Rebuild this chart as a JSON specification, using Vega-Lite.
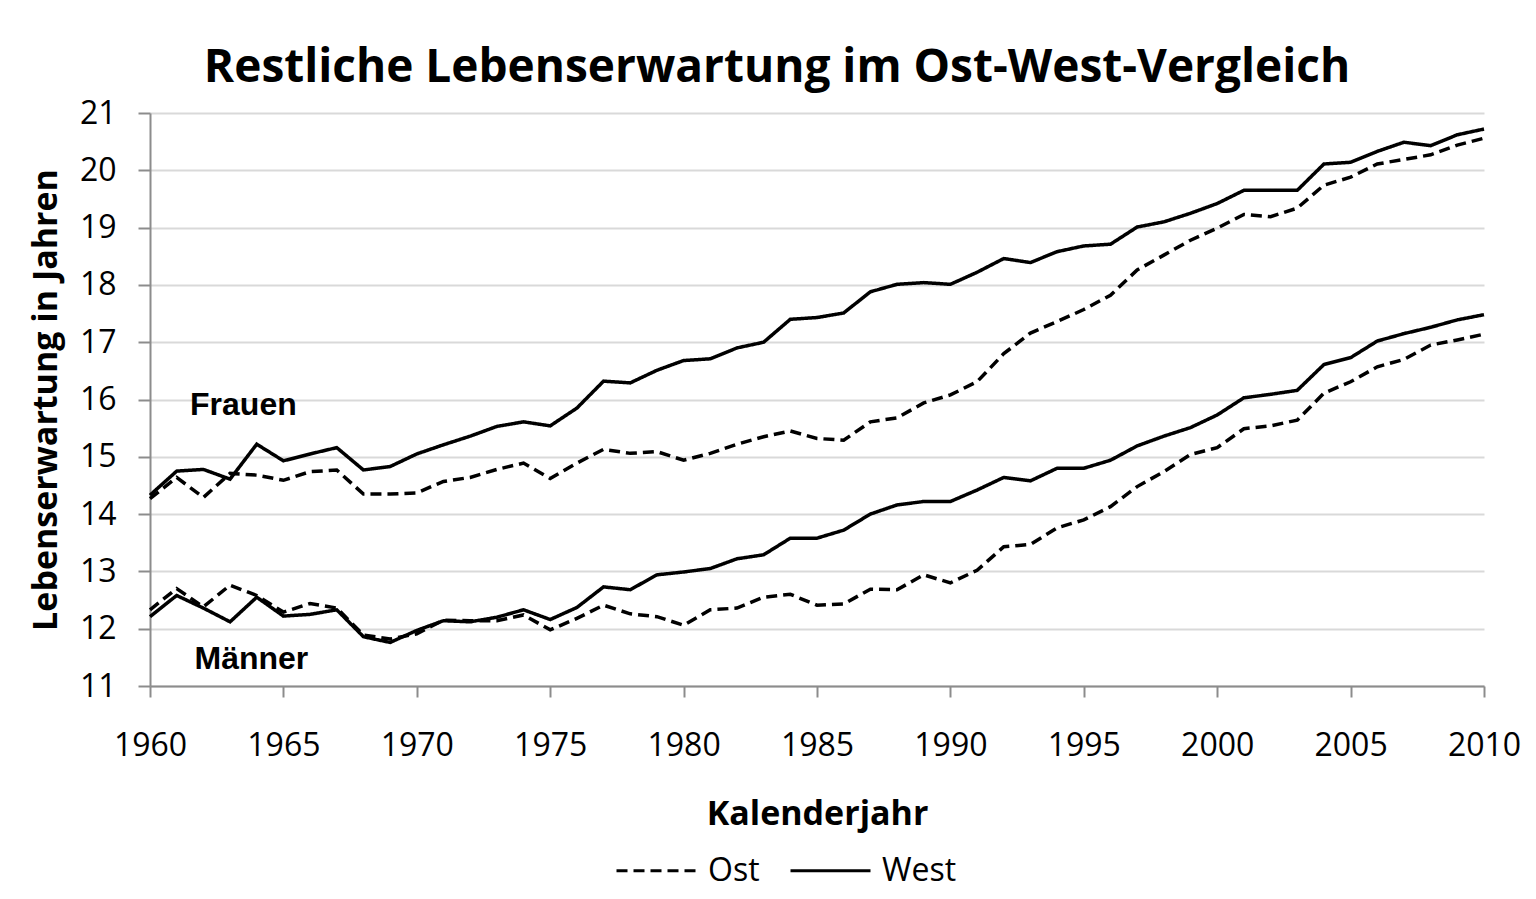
{
  "$schema": "https://vega.github.io/schema/vega-lite/v6.json",
  "width": 1334,
  "height": 573,
  "autosize": {"type": "none"},
  "padding": {"left": 150, "top": 113, "right": 52, "bottom": 213},
  "background": "white",
  "title": {
    "text": "Restliche Lebenserwartung im Ost-West-Vergleich",
    "font": "Open Sans",
    "fontSize": 46,
    "fontWeight": "bold",
    "color": "black",
    "anchor": "middle",
    "dx": -40,
    "offset": 5
  },
  "config": {"view": {"stroke": null}, "font": "Open Sans"},
  "layer": [
    {
      "data": {
        "values": [
          {"Jahr":1960,"Geschlecht":"Frauen","Region":"West","Wert":14.33},{"Jahr":1960,"Geschlecht":"Frauen","Region":"Ost","Wert":14.27},{"Jahr":1960,"Geschlecht":"Männer","Region":"West","Wert":12.21},{"Jahr":1960,"Geschlecht":"Männer","Region":"Ost","Wert":12.33},
          {"Jahr":1961,"Geschlecht":"Frauen","Region":"West","Wert":14.75},{"Jahr":1961,"Geschlecht":"Frauen","Region":"Ost","Wert":14.64},{"Jahr":1961,"Geschlecht":"Männer","Region":"West","Wert":12.58},{"Jahr":1961,"Geschlecht":"Männer","Region":"Ost","Wert":12.70},
          {"Jahr":1962,"Geschlecht":"Frauen","Region":"West","Wert":14.78},{"Jahr":1962,"Geschlecht":"Frauen","Region":"Ost","Wert":14.29},{"Jahr":1962,"Geschlecht":"Männer","Region":"West","Wert":12.36},{"Jahr":1962,"Geschlecht":"Männer","Region":"Ost","Wert":12.38},
          {"Jahr":1963,"Geschlecht":"Frauen","Region":"West","Wert":14.61},{"Jahr":1963,"Geschlecht":"Frauen","Region":"Ost","Wert":14.71},{"Jahr":1963,"Geschlecht":"Männer","Region":"West","Wert":12.12},{"Jahr":1963,"Geschlecht":"Männer","Region":"Ost","Wert":12.76},
          {"Jahr":1964,"Geschlecht":"Frauen","Region":"West","Wert":15.22},{"Jahr":1964,"Geschlecht":"Frauen","Region":"Ost","Wert":14.68},{"Jahr":1964,"Geschlecht":"Männer","Region":"West","Wert":12.55},{"Jahr":1964,"Geschlecht":"Männer","Region":"Ost","Wert":12.58},
          {"Jahr":1965,"Geschlecht":"Frauen","Region":"West","Wert":14.93},{"Jahr":1965,"Geschlecht":"Frauen","Region":"Ost","Wert":14.59},{"Jahr":1965,"Geschlecht":"Männer","Region":"West","Wert":12.22},{"Jahr":1965,"Geschlecht":"Männer","Region":"Ost","Wert":12.29},
          {"Jahr":1966,"Geschlecht":"Frauen","Region":"West","Wert":15.05},{"Jahr":1966,"Geschlecht":"Frauen","Region":"Ost","Wert":14.74},{"Jahr":1966,"Geschlecht":"Männer","Region":"West","Wert":12.25},{"Jahr":1966,"Geschlecht":"Männer","Region":"Ost","Wert":12.44},
          {"Jahr":1967,"Geschlecht":"Frauen","Region":"West","Wert":15.16},{"Jahr":1967,"Geschlecht":"Frauen","Region":"Ost","Wert":14.77},{"Jahr":1967,"Geschlecht":"Männer","Region":"West","Wert":12.33},{"Jahr":1967,"Geschlecht":"Männer","Region":"Ost","Wert":12.36},
          {"Jahr":1968,"Geschlecht":"Frauen","Region":"West","Wert":14.77},{"Jahr":1968,"Geschlecht":"Frauen","Region":"Ost","Wert":14.35},{"Jahr":1968,"Geschlecht":"Männer","Region":"West","Wert":11.86},{"Jahr":1968,"Geschlecht":"Männer","Region":"Ost","Wert":11.89},
          {"Jahr":1969,"Geschlecht":"Frauen","Region":"West","Wert":14.83},{"Jahr":1969,"Geschlecht":"Frauen","Region":"Ost","Wert":14.35},{"Jahr":1969,"Geschlecht":"Männer","Region":"West","Wert":11.76},{"Jahr":1969,"Geschlecht":"Männer","Region":"Ost","Wert":11.82},
          {"Jahr":1970,"Geschlecht":"Frauen","Region":"West","Wert":15.05},{"Jahr":1970,"Geschlecht":"Frauen","Region":"Ost","Wert":14.37},{"Jahr":1970,"Geschlecht":"Männer","Region":"West","Wert":11.97},{"Jahr":1970,"Geschlecht":"Männer","Region":"Ost","Wert":11.91},
          {"Jahr":1971,"Geschlecht":"Frauen","Region":"West","Wert":15.21},{"Jahr":1971,"Geschlecht":"Frauen","Region":"Ost","Wert":14.57},{"Jahr":1971,"Geschlecht":"Männer","Region":"West","Wert":12.14},{"Jahr":1971,"Geschlecht":"Männer","Region":"Ost","Wert":12.15},
          {"Jahr":1972,"Geschlecht":"Frauen","Region":"West","Wert":15.36},{"Jahr":1972,"Geschlecht":"Frauen","Region":"Ost","Wert":14.64},{"Jahr":1972,"Geschlecht":"Männer","Region":"West","Wert":12.12},{"Jahr":1972,"Geschlecht":"Männer","Region":"Ost","Wert":12.14},
          {"Jahr":1973,"Geschlecht":"Frauen","Region":"West","Wert":15.53},{"Jahr":1973,"Geschlecht":"Frauen","Region":"Ost","Wert":14.78},{"Jahr":1973,"Geschlecht":"Männer","Region":"West","Wert":12.20},{"Jahr":1973,"Geschlecht":"Männer","Region":"Ost","Wert":12.14},
          {"Jahr":1974,"Geschlecht":"Frauen","Region":"West","Wert":15.61},{"Jahr":1974,"Geschlecht":"Frauen","Region":"Ost","Wert":14.89},{"Jahr":1974,"Geschlecht":"Männer","Region":"West","Wert":12.33},{"Jahr":1974,"Geschlecht":"Männer","Region":"Ost","Wert":12.24},
          {"Jahr":1975,"Geschlecht":"Frauen","Region":"West","Wert":15.54},{"Jahr":1975,"Geschlecht":"Frauen","Region":"Ost","Wert":14.62},{"Jahr":1975,"Geschlecht":"Männer","Region":"West","Wert":12.16},{"Jahr":1975,"Geschlecht":"Männer","Region":"Ost","Wert":11.98},
          {"Jahr":1976,"Geschlecht":"Frauen","Region":"West","Wert":15.85},{"Jahr":1976,"Geschlecht":"Frauen","Region":"Ost","Wert":14.89},{"Jahr":1976,"Geschlecht":"Männer","Region":"West","Wert":12.37},{"Jahr":1976,"Geschlecht":"Männer","Region":"Ost","Wert":12.18},
          {"Jahr":1977,"Geschlecht":"Frauen","Region":"West","Wert":16.32},{"Jahr":1977,"Geschlecht":"Frauen","Region":"Ost","Wert":15.13},{"Jahr":1977,"Geschlecht":"Männer","Region":"West","Wert":12.73},{"Jahr":1977,"Geschlecht":"Männer","Region":"Ost","Wert":12.41},
          {"Jahr":1978,"Geschlecht":"Frauen","Region":"West","Wert":16.29},{"Jahr":1978,"Geschlecht":"Frauen","Region":"Ost","Wert":15.06},{"Jahr":1978,"Geschlecht":"Männer","Region":"West","Wert":12.68},{"Jahr":1978,"Geschlecht":"Männer","Region":"Ost","Wert":12.26},
          {"Jahr":1979,"Geschlecht":"Frauen","Region":"West","Wert":16.51},{"Jahr":1979,"Geschlecht":"Frauen","Region":"Ost","Wert":15.09},{"Jahr":1979,"Geschlecht":"Männer","Region":"West","Wert":12.94},{"Jahr":1979,"Geschlecht":"Männer","Region":"Ost","Wert":12.21},
          {"Jahr":1980,"Geschlecht":"Frauen","Region":"West","Wert":16.68},{"Jahr":1980,"Geschlecht":"Frauen","Region":"Ost","Wert":14.94},{"Jahr":1980,"Geschlecht":"Männer","Region":"West","Wert":12.99},{"Jahr":1980,"Geschlecht":"Männer","Region":"Ost","Wert":12.06},
          {"Jahr":1981,"Geschlecht":"Frauen","Region":"West","Wert":16.71},{"Jahr":1981,"Geschlecht":"Frauen","Region":"Ost","Wert":15.06},{"Jahr":1981,"Geschlecht":"Männer","Region":"West","Wert":13.05},{"Jahr":1981,"Geschlecht":"Männer","Region":"Ost","Wert":12.33},
          {"Jahr":1982,"Geschlecht":"Frauen","Region":"West","Wert":16.90},{"Jahr":1982,"Geschlecht":"Frauen","Region":"Ost","Wert":15.22},{"Jahr":1982,"Geschlecht":"Männer","Region":"West","Wert":13.22},{"Jahr":1982,"Geschlecht":"Männer","Region":"Ost","Wert":12.36},
          {"Jahr":1983,"Geschlecht":"Frauen","Region":"West","Wert":17.00},{"Jahr":1983,"Geschlecht":"Frauen","Region":"Ost","Wert":15.35},{"Jahr":1983,"Geschlecht":"Männer","Region":"West","Wert":13.29},{"Jahr":1983,"Geschlecht":"Männer","Region":"Ost","Wert":12.55},
          {"Jahr":1984,"Geschlecht":"Frauen","Region":"West","Wert":17.40},{"Jahr":1984,"Geschlecht":"Frauen","Region":"Ost","Wert":15.45},{"Jahr":1984,"Geschlecht":"Männer","Region":"West","Wert":13.58},{"Jahr":1984,"Geschlecht":"Männer","Region":"Ost","Wert":12.60},
          {"Jahr":1985,"Geschlecht":"Frauen","Region":"West","Wert":17.43},{"Jahr":1985,"Geschlecht":"Frauen","Region":"Ost","Wert":15.32},{"Jahr":1985,"Geschlecht":"Männer","Region":"West","Wert":13.58},{"Jahr":1985,"Geschlecht":"Männer","Region":"Ost","Wert":12.41},
          {"Jahr":1986,"Geschlecht":"Frauen","Region":"West","Wert":17.51},{"Jahr":1986,"Geschlecht":"Frauen","Region":"Ost","Wert":15.29},{"Jahr":1986,"Geschlecht":"Männer","Region":"West","Wert":13.72},{"Jahr":1986,"Geschlecht":"Männer","Region":"Ost","Wert":12.43},
          {"Jahr":1987,"Geschlecht":"Frauen","Region":"West","Wert":17.88},{"Jahr":1987,"Geschlecht":"Frauen","Region":"Ost","Wert":15.61},{"Jahr":1987,"Geschlecht":"Männer","Region":"West","Wert":14.00},{"Jahr":1987,"Geschlecht":"Männer","Region":"Ost","Wert":12.69},
          {"Jahr":1988,"Geschlecht":"Frauen","Region":"West","Wert":18.01},{"Jahr":1988,"Geschlecht":"Frauen","Region":"Ost","Wert":15.68},{"Jahr":1988,"Geschlecht":"Männer","Region":"West","Wert":14.16},{"Jahr":1988,"Geschlecht":"Männer","Region":"Ost","Wert":12.68},
          {"Jahr":1989,"Geschlecht":"Frauen","Region":"West","Wert":18.04},{"Jahr":1989,"Geschlecht":"Frauen","Region":"Ost","Wert":15.94},{"Jahr":1989,"Geschlecht":"Männer","Region":"West","Wert":14.22},{"Jahr":1989,"Geschlecht":"Männer","Region":"Ost","Wert":12.94},
          {"Jahr":1990,"Geschlecht":"Frauen","Region":"West","Wert":18.01},{"Jahr":1990,"Geschlecht":"Frauen","Region":"Ost","Wert":16.08},{"Jahr":1990,"Geschlecht":"Männer","Region":"West","Wert":14.22},{"Jahr":1990,"Geschlecht":"Männer","Region":"Ost","Wert":12.80},
          {"Jahr":1991,"Geschlecht":"Frauen","Region":"West","Wert":18.22},{"Jahr":1991,"Geschlecht":"Frauen","Region":"Ost","Wert":16.31},{"Jahr":1991,"Geschlecht":"Männer","Region":"West","Wert":14.42},{"Jahr":1991,"Geschlecht":"Männer","Region":"Ost","Wert":13.02},
          {"Jahr":1992,"Geschlecht":"Frauen","Region":"West","Wert":18.46},{"Jahr":1992,"Geschlecht":"Frauen","Region":"Ost","Wert":16.80},{"Jahr":1992,"Geschlecht":"Männer","Region":"West","Wert":14.64},{"Jahr":1992,"Geschlecht":"Männer","Region":"Ost","Wert":13.43},
          {"Jahr":1993,"Geschlecht":"Frauen","Region":"West","Wert":18.39},{"Jahr":1993,"Geschlecht":"Frauen","Region":"Ost","Wert":17.16},{"Jahr":1993,"Geschlecht":"Männer","Region":"West","Wert":14.58},{"Jahr":1993,"Geschlecht":"Männer","Region":"Ost","Wert":13.47},
          {"Jahr":1994,"Geschlecht":"Frauen","Region":"West","Wert":18.58},{"Jahr":1994,"Geschlecht":"Frauen","Region":"Ost","Wert":17.36},{"Jahr":1994,"Geschlecht":"Männer","Region":"West","Wert":14.80},{"Jahr":1994,"Geschlecht":"Männer","Region":"Ost","Wert":13.76},
          {"Jahr":1995,"Geschlecht":"Frauen","Region":"West","Wert":18.68},{"Jahr":1995,"Geschlecht":"Frauen","Region":"Ost","Wert":17.57},{"Jahr":1995,"Geschlecht":"Männer","Region":"West","Wert":14.80},{"Jahr":1995,"Geschlecht":"Männer","Region":"Ost","Wert":13.90},
          {"Jahr":1996,"Geschlecht":"Frauen","Region":"West","Wert":18.71},{"Jahr":1996,"Geschlecht":"Frauen","Region":"Ost","Wert":17.82},{"Jahr":1996,"Geschlecht":"Männer","Region":"West","Wert":14.94},{"Jahr":1996,"Geschlecht":"Männer","Region":"Ost","Wert":14.13},
          {"Jahr":1997,"Geschlecht":"Frauen","Region":"West","Wert":19.01},{"Jahr":1997,"Geschlecht":"Frauen","Region":"Ost","Wert":18.26},{"Jahr":1997,"Geschlecht":"Männer","Region":"West","Wert":15.19},{"Jahr":1997,"Geschlecht":"Männer","Region":"Ost","Wert":14.48},
          {"Jahr":1998,"Geschlecht":"Frauen","Region":"West","Wert":19.10},{"Jahr":1998,"Geschlecht":"Frauen","Region":"Ost","Wert":18.52},{"Jahr":1998,"Geschlecht":"Männer","Region":"West","Wert":15.36},{"Jahr":1998,"Geschlecht":"Männer","Region":"Ost","Wert":14.74},
          {"Jahr":1999,"Geschlecht":"Frauen","Region":"West","Wert":19.25},{"Jahr":1999,"Geschlecht":"Frauen","Region":"Ost","Wert":18.78},{"Jahr":1999,"Geschlecht":"Männer","Region":"West","Wert":15.51},{"Jahr":1999,"Geschlecht":"Männer","Region":"Ost","Wert":15.04},
          {"Jahr":2000,"Geschlecht":"Frauen","Region":"West","Wert":19.42},{"Jahr":2000,"Geschlecht":"Frauen","Region":"Ost","Wert":18.99},{"Jahr":2000,"Geschlecht":"Männer","Region":"West","Wert":15.73},{"Jahr":2000,"Geschlecht":"Männer","Region":"Ost","Wert":15.16},
          {"Jahr":2001,"Geschlecht":"Frauen","Region":"West","Wert":19.65},{"Jahr":2001,"Geschlecht":"Frauen","Region":"Ost","Wert":19.23},{"Jahr":2001,"Geschlecht":"Männer","Region":"West","Wert":16.03},{"Jahr":2001,"Geschlecht":"Männer","Region":"Ost","Wert":15.49},
          {"Jahr":2002,"Geschlecht":"Frauen","Region":"West","Wert":19.65},{"Jahr":2002,"Geschlecht":"Frauen","Region":"Ost","Wert":19.19},{"Jahr":2002,"Geschlecht":"Männer","Region":"West","Wert":16.09},{"Jahr":2002,"Geschlecht":"Männer","Region":"Ost","Wert":15.54},
          {"Jahr":2003,"Geschlecht":"Frauen","Region":"West","Wert":19.65},{"Jahr":2003,"Geschlecht":"Frauen","Region":"Ost","Wert":19.34},{"Jahr":2003,"Geschlecht":"Männer","Region":"West","Wert":16.16},{"Jahr":2003,"Geschlecht":"Männer","Region":"Ost","Wert":15.64},
          {"Jahr":2004,"Geschlecht":"Frauen","Region":"West","Wert":20.11},{"Jahr":2004,"Geschlecht":"Frauen","Region":"Ost","Wert":19.74},{"Jahr":2004,"Geschlecht":"Männer","Region":"West","Wert":16.61},{"Jahr":2004,"Geschlecht":"Männer","Region":"Ost","Wert":16.11},
          {"Jahr":2005,"Geschlecht":"Frauen","Region":"West","Wert":20.14},{"Jahr":2005,"Geschlecht":"Frauen","Region":"Ost","Wert":19.88},{"Jahr":2005,"Geschlecht":"Männer","Region":"West","Wert":16.73},{"Jahr":2005,"Geschlecht":"Männer","Region":"Ost","Wert":16.31},
          {"Jahr":2006,"Geschlecht":"Frauen","Region":"West","Wert":20.33},{"Jahr":2006,"Geschlecht":"Frauen","Region":"Ost","Wert":20.11},{"Jahr":2006,"Geschlecht":"Männer","Region":"West","Wert":17.02},{"Jahr":2006,"Geschlecht":"Männer","Region":"Ost","Wert":16.57},
          {"Jahr":2007,"Geschlecht":"Frauen","Region":"West","Wert":20.49},{"Jahr":2007,"Geschlecht":"Frauen","Region":"Ost","Wert":20.19},{"Jahr":2007,"Geschlecht":"Männer","Region":"West","Wert":17.15},{"Jahr":2007,"Geschlecht":"Männer","Region":"Ost","Wert":16.70},
          {"Jahr":2008,"Geschlecht":"Frauen","Region":"West","Wert":20.43},{"Jahr":2008,"Geschlecht":"Frauen","Region":"Ost","Wert":20.27},{"Jahr":2008,"Geschlecht":"Männer","Region":"West","Wert":17.26},{"Jahr":2008,"Geschlecht":"Männer","Region":"Ost","Wert":16.95},
          {"Jahr":2009,"Geschlecht":"Frauen","Region":"West","Wert":20.62},{"Jahr":2009,"Geschlecht":"Frauen","Region":"Ost","Wert":20.44},{"Jahr":2009,"Geschlecht":"Männer","Region":"West","Wert":17.39},{"Jahr":2009,"Geschlecht":"Männer","Region":"Ost","Wert":17.04},
          {"Jahr":2010,"Geschlecht":"Frauen","Region":"West","Wert":20.72},{"Jahr":2010,"Geschlecht":"Frauen","Region":"Ost","Wert":20.56},{"Jahr":2010,"Geschlecht":"Männer","Region":"West","Wert":17.48},{"Jahr":2010,"Geschlecht":"Männer","Region":"Ost","Wert":17.14}
        ]
      },
      "mark": {"type": "line", "strokeWidth": 3.5, "color": "black"},
      "encoding": {
        "x": {
          "field": "Jahr",
          "type": "quantitative",
          "scale": {"domain": [1960, 2010], "nice": false, "zero": false},
          "axis": {
            "values": [1960, 1965, 1970, 1975, 1980, 1985, 1990, 1995, 2000, 2005, 2010],
            "format": "d",
            "grid": false,
            "labelFlush": false,
            "labelOverlap": false,
            "labelFont": "Open Sans",
            "labelFontSize": 32,
            "labelColor": "black",
            "labelPadding": 33,
            "tickSize": 11,
            "tickWidth": 2,
            "tickColor": "#8c8c8c",
            "domainColor": "#8c8c8c",
            "domainWidth": 2,
            "title": "Kalenderjahr",
            "titleFont": "Open Sans",
            "titleFontSize": 34,
            "titleFontWeight": "bold",
            "titleColor": "black",
            "titlePadding": 36
          }
        },
        "y": {
          "field": "Wert",
          "type": "quantitative",
          "scale": {"domain": [11, 21], "nice": false, "zero": false},
          "axis": {
            "values": [11, 12, 13, 14, 15, 16, 17, 18, 19, 20, 21],
            "format": "d",
            "grid": true,
            "gridColor": "#d9d9d9",
            "gridWidth": 2,
            "labelFont": "Open Sans",
            "labelFontSize": 32,
            "labelColor": "black",
            "labelPadding": 22,
            "tickSize": 12,
            "tickWidth": 2,
            "tickColor": "#8c8c8c",
            "domainColor": "#8c8c8c",
            "domainWidth": 2,
            "title": "Lebenserwartung in Jahren",
            "titleFont": "Open Sans",
            "titleFontSize": 34,
            "titleFontWeight": "bold",
            "titleColor": "black",
            "titlePadding": 16
          }
        },
        "detail": {"field": "Geschlecht", "type": "nominal"},
        "strokeDash": {
          "field": "Region",
          "type": "nominal",
          "scale": {"domain": ["Ost", "West"], "range": [[11, 6], [1, 0]]},
          "legend": {
            "orient": "none",
            "legendX": 465,
            "legendY": 716,
            "direction": "horizontal",
            "title": null,
            "symbolType": "stroke",
            "symbolSize": 6400,
            "symbolStrokeWidth": 3,
            "symbolStrokeColor": "black",
            "labelFont": "Open Sans",
            "labelFontSize": 32,
            "labelColor": "black",
            "labelOffset": 10,
            "columnPadding": 24
          }
        }
      }
    },
    {
      "data": {
        "values": [
          {"Jahr": 1963.5, "Wert": 15.73, "Label": "Frauen"},
          {"Jahr": 1963.8, "Wert": 11.29, "Label": "Männer"}
        ]
      },
      "mark": {"type": "text", "font": "Liberation Sans", "fontSize": 32, "fontWeight": "bold", "align": "center", "baseline": "alphabetic", "color": "black"},
      "encoding": {
        "x": {"field": "Jahr", "type": "quantitative"},
        "y": {"field": "Wert", "type": "quantitative"},
        "text": {"field": "Label", "type": "nominal"}
      }
    }
  ]
}
